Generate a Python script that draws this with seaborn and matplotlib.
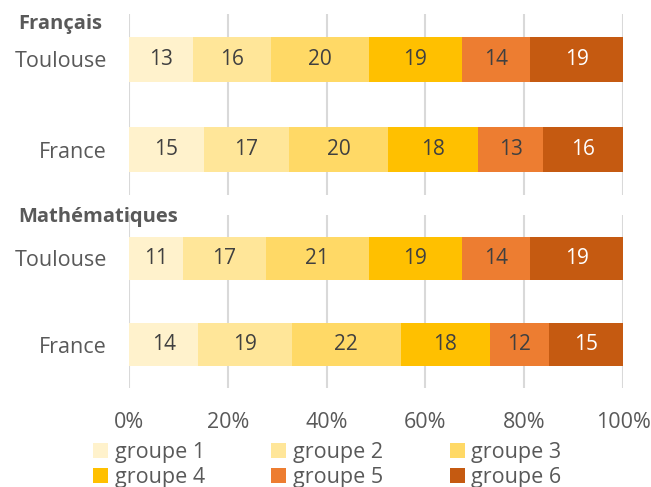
import numpy as np
import pandas as pd
import matplotlib
matplotlib.use("Agg")
import matplotlib.pyplot as plt
from matplotlib.patches import Patch
import seaborn as sns

sns.set_theme(style="white")
plt.rcParams["font.family"] = ["Open Sans", "DejaVu Sans"]

# Répartition des élèves par groupe de niveau (en %)
subjects = ["Français", "Mathématiques"]
places = ["Toulouse", "France"]
groups = ["groupe 1", "groupe 2", "groupe 3", "groupe 4", "groupe 5", "groupe 6"]
francais_toulouse = [13, 16, 20, 19, 14, 19]
francais_france = [15, 17, 20, 18, 13, 16]
maths_toulouse = [11, 17, 21, 19, 14, 19]
maths_france = [14, 19, 22, 18, 12, 15]
x_ticks = [0, 20, 40, 60, 80, 100]
x_labels = ["0%", "20%", "40%", "60%", "80%", "100%"]

colors = ["#FFF2CC", "#FFE699", "#FFD966", "#FFC000", "#ED7D31", "#C55A11"]
label_colors = ["#404040"] * 5 + ["#FFFFFF"]
text_grey = "#595959"
grid_grey = "#D9D9D9"
FS = 15.5
FS_BAR = 15

panels = {
    "Français": [francais_toulouse, francais_france],
    "Mathématiques": [maths_toulouse, maths_france],
}

W, H = 651, 487
fig = plt.figure(figsize=(W / 100, H / 100), dpi=100)

# panel extents in pixels: (top, bottom)
extents = [(14, 195), (215, 388)]
left_px, right_px = 129, 623

axes = []
for (top, bottom), subject in zip(extents, subjects):
    ax = fig.add_axes([left_px / W, (H - bottom) / H,
                       (right_px - left_px) / W, (bottom - top) / H])
    rows = panels[subject]
    shares = np.array([np.array(r, float) / sum(r) * 100 for r in rows])
    cum = np.cumsum(shares, axis=1)
    # stacked bars: draw cumulative totals from the widest down
    for k in range(len(groups) - 1, -1, -1):
        df = pd.DataFrame({"place": places, "value": cum[:, k]})
        sns.barplot(data=df, x="value", y="place", orient="h", ax=ax,
                    color=colors[k], saturation=1, width=0.5,
                    linewidth=0, zorder=3)
    for i, r in enumerate(rows):
        for k, v in enumerate(r):
            xc = cum[i, k] - shares[i, k] / 2
            ax.text(xc, i, f"{v}", ha="center", va="center",
                    fontsize=FS_BAR, color=label_colors[k], zorder=5)
    ax.set_xlim(0, 100)
    ax.set_ylim(1.5, -0.5)
    ax.set_xticks(x_ticks)
    ax.xaxis.grid(True, color=grid_grey, linewidth=1.5, zorder=0)
    ax.set_axisbelow(True)
    ax.set_xlabel("")
    ax.set_ylabel("")
    for s in ax.spines.values():
        s.set_visible(False)
    ax.tick_params(axis="y", length=0, pad=16, labelsize=FS, labelcolor=text_grey)
    ax.tick_params(axis="x", length=0, pad=17, labelsize=FS, labelcolor=text_grey)
    axes.append(ax)

axes[0].set_xticklabels([])
axes[1].set_xticklabels(x_labels)

# subject headers
fig.text(18 / W, 1 - 24 / H, subjects[0], fontsize=14.5, fontweight="bold",
         color=text_grey, ha="left", va="center")
fig.text(18 / W, 1 - 217 / H, subjects[1], fontsize=14.5, fontweight="bold",
         color=text_grey, ha="left", va="center", zorder=10)

# legend filled row by row over three columns
order = [0, 3, 1, 4, 2, 5]
handles = [Patch(facecolor=c, edgecolor="none") for c in colors]
fig.legend([handles[i] for i in order], [groups[i] for i in order],
           ncol=3, loc="upper left",
           bbox_to_anchor=(93 / W, 1 - 442 / H), frameon=False,
           fontsize=FS, labelcolor=text_grey, handlelength=0.7,
           handleheight=0.7, handletextpad=0.3, columnspacing=3.1,
           labelspacing=0.2, borderpad=0, borderaxespad=0)

fig.savefig("out.png", dpi=100)
